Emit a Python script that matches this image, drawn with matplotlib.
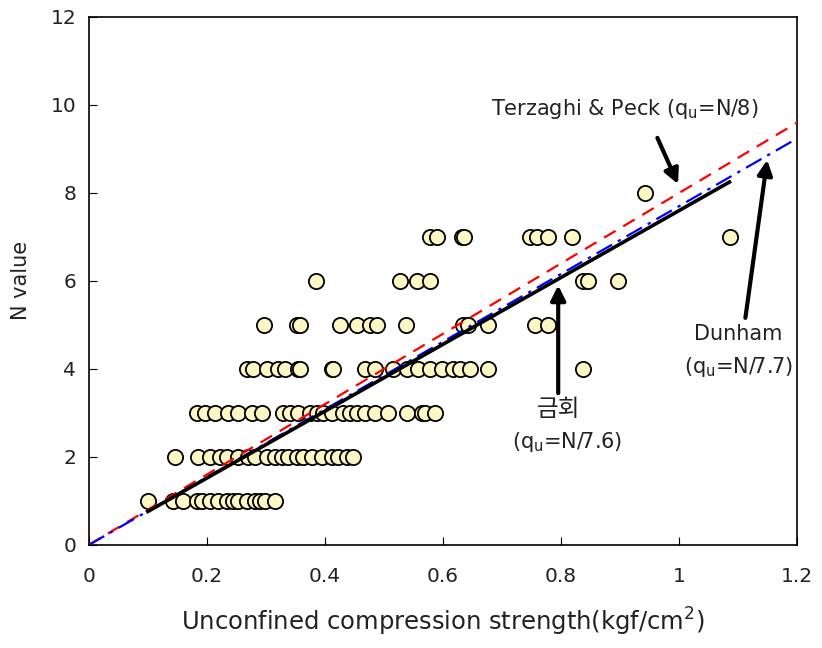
import numpy as np
import matplotlib
matplotlib.use("Agg")
import matplotlib.pyplot as plt

plt.rcParams['font.family'] = ['DejaVu Sans', 'Noto Sans CJK KR']
plt.rcParams['mathtext.fontset'] = 'dejavusans'

# measured points: unconfined compression strength (kgf/cm2) per N value
q_n1 = [0.10, 0.142, 0.159, 0.183, 0.191, 0.205, 0.219, 0.234, 0.244, 0.253,
        0.268, 0.281, 0.290, 0.298, 0.315]
q_n2 = [0.146, 0.185, 0.205, 0.222, 0.234, 0.253, 0.270, 0.281, 0.302, 0.315,
        0.327, 0.337, 0.353, 0.363, 0.378, 0.395, 0.412, 0.422, 0.437, 0.447]
q_n3 = [0.183, 0.197, 0.214, 0.236, 0.253, 0.276, 0.293, 0.329, 0.341, 0.354,
        0.375, 0.386, 0.397, 0.412, 0.431, 0.442, 0.454, 0.468, 0.485, 0.507,
        0.539, 0.564, 0.569, 0.586]
q_n4 = [0.268, 0.278, 0.302, 0.320, 0.332, 0.354, 0.358, 0.412, 0.414, 0.468,
        0.485, 0.515, 0.539, 0.558, 0.578, 0.598, 0.617, 0.629, 0.646, 0.676,
        0.837]
q_n5 = [0.297, 0.353, 0.358, 0.425, 0.454, 0.476, 0.488, 0.537, 0.634, 0.642,
        0.676, 0.756, 0.778]
q_n6 = [0.385, 0.527, 0.556, 0.578, 0.837, 0.846, 0.897]
q_n7 = [0.578, 0.590, 0.632, 0.636, 0.747, 0.759, 0.778, 0.819, 1.086]
q_n8 = [0.942]

groups = {1: q_n1, 2: q_n2, 3: q_n3, 4: q_n4, 5: q_n5, 6: q_n6, 7: q_n7, 8: q_n8}

# correlations N = k * qu
k_terzaghi = 8.0
k_dunham = 7.7
k_this = 7.6
q_full = np.array([0.0, 1.2])
q_this = np.array([0.10, 1.085])

fig = plt.figure(figsize=(8.22, 6.48), dpi=100)
ax = fig.add_axes([0.108, 0.159, 0.862, 0.815])

for n, qs in groups.items():
    ax.scatter(qs, [n] * len(qs), s=120, facecolor='#FCF7C5', edgecolor='black',
               linewidth=1.3, zorder=2)

ax.plot(q_full, k_terzaghi * q_full, color='red', ls=(0, (6, 4)), lw=1.6, zorder=3)
ax.plot(q_full, k_dunham * q_full, color='blue', ls=(0, (8, 3, 1.5, 3)), lw=1.6, zorder=3)
ax.plot(q_this, k_this * q_this, color='black', lw=2.6, zorder=4)

arrow = dict(arrowstyle='-|>', lw=3, mutation_scale=22, color='black',
             shrinkA=0, shrinkB=0)
ax.annotate('', xy=(0.998, 8.2), xytext=(0.963, 9.25), arrowprops=arrow, zorder=5)
ax.annotate('', xy=(1.149, 8.75), xytext=(1.112, 5.16), arrowprops=arrow, zorder=5)
ax.annotate('', xy=(0.795, 5.9), xytext=(0.795, 3.45), arrowprops=arrow, zorder=5)

tk = dict(fontsize=15, ha='center', va='center', color='#222222')
ax.text(0.908, 9.9, 'Terzaghi & Peck (q$_\\mathregular{u}$=N/8)', **tk)
ax.text(1.10, 4.8, 'Dunham', **tk)
ax.text(1.10, 4.05, '(q$_\\mathregular{u}$=N/7.7)', **tk)
ax.text(0.795, 3.07, '금회', family=['Noto Sans CJK KR', 'DejaVu Sans'],
        fontsize=17, ha='center', va='center', color='#222222')
ax.text(0.81, 2.33, '(q$_\\mathregular{u}$=N/7.6)', **tk)

ax.set_xlim(0, 1.2)
ax.set_ylim(0, 12)
ax.set_xticks(np.arange(0, 1.21, 0.2))
ax.set_xticklabels(['0', '0.2', '0.4', '0.6', '0.8', '1', '1.2'])
ax.set_yticks(np.arange(0, 13, 2))
ax.tick_params(direction='in', labelsize=14.5, length=6, colors='black',
               labelcolor='#222222')
ax.tick_params(axis='x', pad=16)
ax.tick_params(axis='y', pad=9)
for sp in ax.spines.values():
    sp.set_linewidth(1.2)

ax.set_xlabel('Unconfined compression strength(kgf/cm$^\\mathregular{2}$)',
              fontsize=17.5, labelpad=14, color='#222222')
ax.set_ylabel('N value', fontsize=15, labelpad=14, color='#222222')

fig.savefig('out.png', dpi=100)
